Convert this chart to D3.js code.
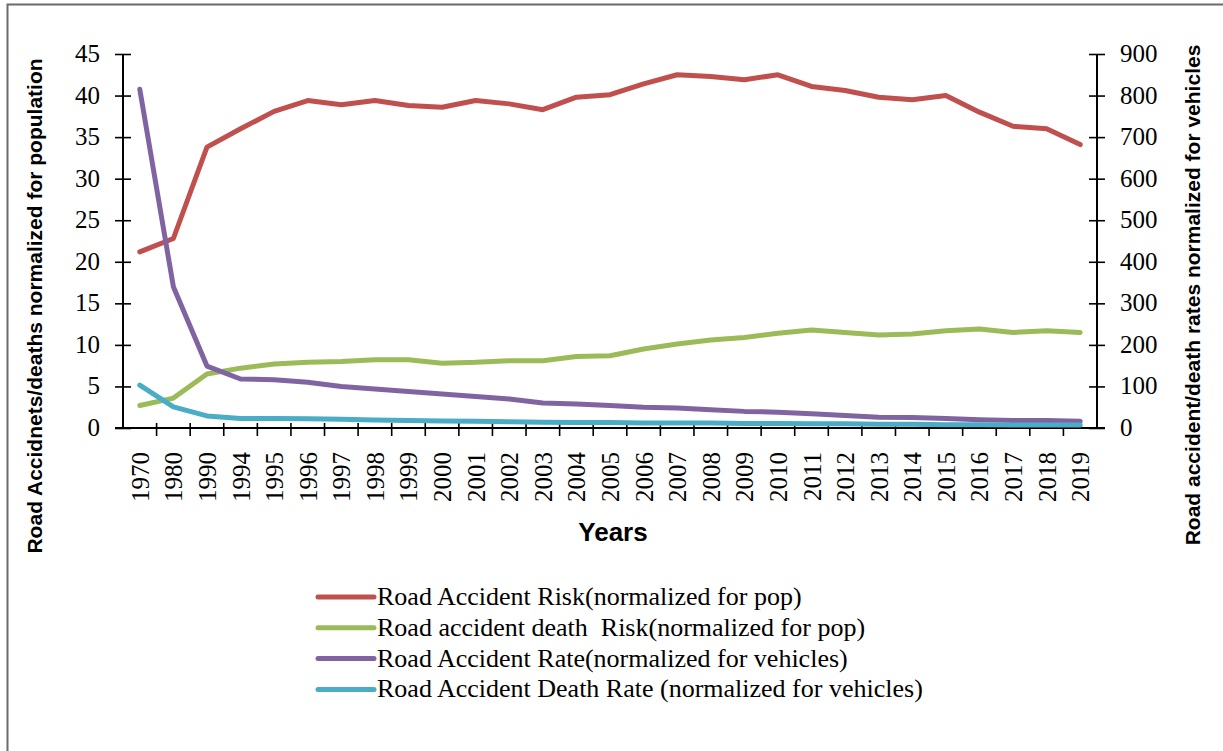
<!DOCTYPE html>
<html>
<head>
<meta charset="utf-8">
<script src="https://cdn.jsdelivr.net/npm/d3@7"></script>
<style>
  body { margin: 0; background: #fff; }
  svg { display: block; }
</style>
</head>
<body>
<div id="chart"></div>
<script>
const years = ["1970","1980","1990","1994","1995","1996","1997","1998","1999","2000","2001","2002","2003","2004","2005","2006","2007","2008","2009","2010","2011","2012","2013","2014","2015","2016","2017","2018","2019"]

// left axis (normalized for population)
const accidentRisk = [21.2,22.8,33.8,36.0,38.1,39.4,38.9,39.4,38.8,38.6,39.4,39.0,38.3,39.8,40.1,41.4,42.5,42.3,41.9,42.5,41.1,40.6,39.8,39.5,40.0,38.0,36.3,36.0,34.1]
const deathRisk = [2.7,3.6,6.5,7.2,7.7,7.9,8.0,8.2,8.2,7.8,7.9,8.1,8.1,8.6,8.7,9.5,10.1,10.6,10.9,11.4,11.8,11.5,11.2,11.3,11.7,11.9,11.5,11.7,11.5]
// right axis (normalized for vehicles)
const accidentRate = [815,340,149,118,116,110,100,94,88,82,76,70,60,58,54,50,48,44,40,38,34,30,26,25,23,20,18,18,16]
const deathRate = [103,51,29,23,23,22,21,19,18,17,16,15,14,13,13,12,12,12,11,11,10,10,9,9,8,8,7,7,7]

const leftTicks = [0,5,10,15,20,25,30,35,40,45]
const rightTicks = [0,100,200,300,400,500,600,700,800,900]

const series = [
    { name: "Road Accident Risk(normalized for pop)", values: accidentRisk, axis: "left", color: "#C0504D" },
    { name: "Road accident death  Risk(normalized for pop)", values: deathRisk, axis: "left", color: "#9BBB59" },
    { name: "Road Accident Rate(normalized for vehicles)", values: accidentRate, axis: "right", color: "#8064A2" },
    { name: "Road Accident Death Rate (normalized for vehicles)", values: deathRate, axis: "right", color: "#4BACC6" }
]

const width = 1223
const height = 751
const plot = { left: 123, right: 1097, top: 54, bottom: 428 }
const serif = "Liberation Serif"
const sans = "Liberation Sans"

const svg = d3.select("#chart")
    .append("svg")
    .attr("width", width)
    .attr("height", height)

// frame
svg.append("rect")
    .attr("x", 7.5)
    .attr("y", 4.5)
    .attr("width", width + 20)
    .attr("height", height + 20)
    .attr("fill", "none")
    .attr("stroke", "#6b6b6b")
    .attr("stroke-width", 2)

// scales
const x = d3.scaleBand().domain(years).range([plot.left, plot.right])
const yLeft = d3.scaleLinear().domain([0, 45]).range([plot.bottom, plot.top])
const yRight = d3.scaleLinear().domain([0, 900]).range([plot.bottom, plot.top])

// left axis (ticks from d3, labels drawn separately)
const gl = svg.append("g")
    .attr("transform", `translate(${plot.left},0)`)
    .call(d3.axisLeft(yLeft).tickValues(leftTicks).tickSize(8).tickFormat(""))
gl.selectAll(".tick line").attr("x2", -8).attr("x1", 8).attr("stroke-width", 1.6)
gl.select(".domain").attr("stroke-width", 2).attr("d", `M0,${plot.top}V${plot.bottom}`)
svg.append("g").selectAll("text")
    .data(leftTicks)
    .join("text")
    .attr("x", plot.left - 23)
    .attr("y", d => yLeft(d) + 8)
    .attr("text-anchor", "end")
    .attr("font-family", serif)
    .attr("font-size", "25px")
    .text(d => d)

// right axis
const gr = svg.append("g")
    .attr("transform", `translate(${plot.right},0)`)
    .call(d3.axisRight(yRight).tickValues(rightTicks).tickSize(8).tickFormat(""))
gr.selectAll(".tick line").attr("x1", -8).attr("x2", 8).attr("stroke-width", 1.6)
gr.select(".domain").attr("stroke-width", 2).attr("d", `M0,${plot.top}V${plot.bottom}`)
svg.append("g").selectAll("text")
    .data(rightTicks)
    .join("text")
    .attr("x", plot.right + 23)
    .attr("y", d => yRight(d) + 8)
    .attr("font-family", serif)
    .attr("font-size", "25px")
    .text(d => d)

// x axis
const gx = svg.append("g")
    .attr("transform", `translate(0,${plot.bottom})`)
gx.append("line")
    .attr("x1", plot.left - 8).attr("x2", plot.right + 8)
    .attr("stroke", "#000").attr("stroke-width", 2)
const tickXs = years.map(d => x(d))
gx.selectAll(".xt")
    .data(tickXs.slice(1))
    .join("line")
    .attr("class", "xt")
    .attr("x1", d => d).attr("x2", d => d)
    .attr("y1", -5).attr("y2", 8)
    .attr("stroke", "#000").attr("stroke-width", 1.6)
gx.selectAll(".xl")
    .data(years)
    .join("text")
    .attr("class", "xl")
    .attr("transform", d => `translate(${x(d) + x.bandwidth() / 2 + 9},24) rotate(-90)`)
    .attr("text-anchor", "end")
    .attr("font-family", serif)
    .attr("font-size", "25px")
    .text(d => d)

// lines
const line = yScale => d3.line()
    .x((d, i) => x(years[i]) + x.bandwidth() / 2)
    .y(d => yScale(d))

svg.append("g")
    .selectAll("path")
    .data(series)
    .join("path")
    .attr("d", s => line(s.axis === "left" ? yLeft : yRight)(s.values))
    .attr("fill", "none")
    .attr("stroke", s => s.color)
    .attr("stroke-width", 5)
    .attr("stroke-linejoin", "round")
    .attr("stroke-linecap", "round")

// axis titles
svg.append("text")
    .attr("transform", "translate(42,306) rotate(-90)")
    .attr("text-anchor", "middle")
    .attr("font-family", sans)
    .attr("font-weight", "bold")
    .attr("font-size", "21px")
    .text("Road Accidnets/deaths normalized for population")

svg.append("text")
    .attr("transform", "translate(1200,295) rotate(-90)")
    .attr("text-anchor", "middle")
    .attr("font-family", sans)
    .attr("font-weight", "bold")
    .attr("font-size", "21px")
    .text("Road accident/death rates normalized for vehicles")

svg.append("text")
    .attr("x", 613)
    .attr("y", 541)
    .attr("text-anchor", "middle")
    .attr("font-family", sans)
    .attr("font-weight", "bold")
    .attr("font-size", "26px")
    .text("Years")

// legend
const legend = svg.append("g")
    .selectAll("g")
    .data(series)
    .join("g")
    .attr("transform", (d, i) => `translate(318,${597 + i * 30.8})`)
legend.append("line")
    .attr("x1", 0).attr("x2", 56)
    .attr("stroke", d => d.color)
    .attr("stroke-width", 5)
    .attr("stroke-linecap", "round")
legend.append("text")
    .attr("x", 59)
    .attr("y", 8)
    .attr("font-family", serif)
    .attr("font-size", "26px")
    .style("white-space", "pre")
    .text(d => d.name)
</script>
</body>
</html>
